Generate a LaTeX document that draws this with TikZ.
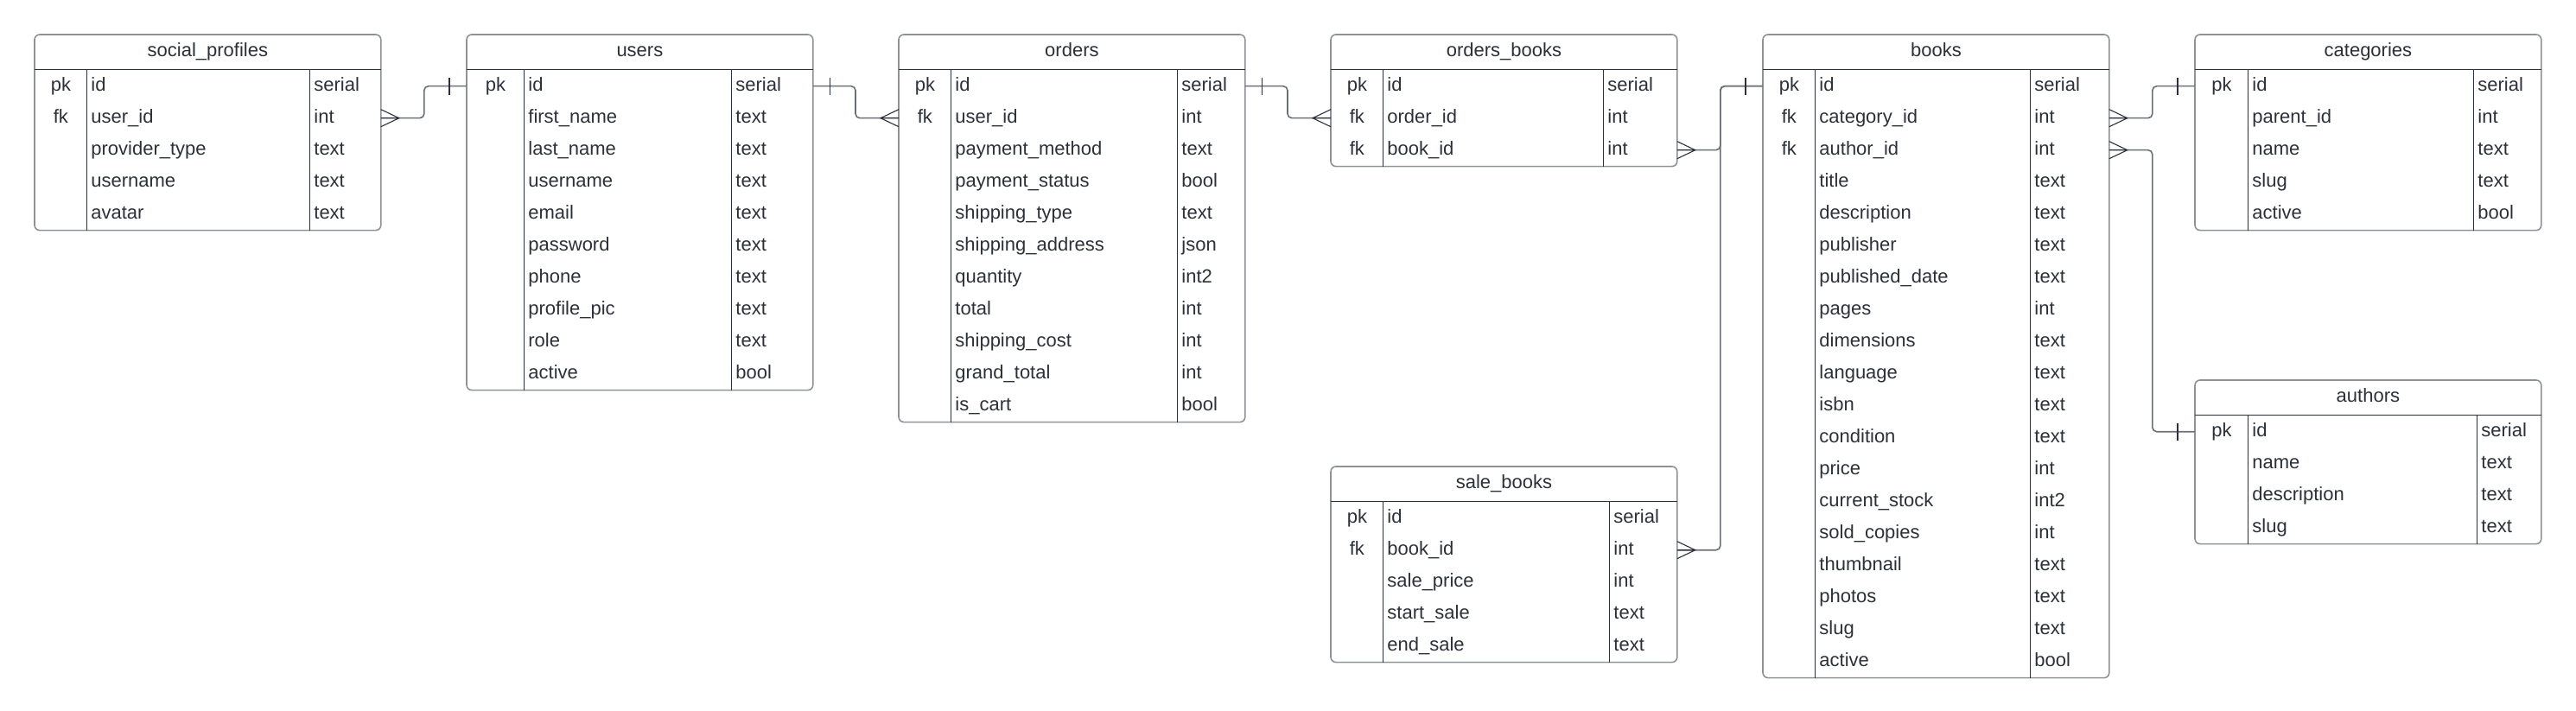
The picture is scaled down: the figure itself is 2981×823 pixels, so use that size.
\documentclass[tikz,border=0pt]{standalone}
\usepackage{fontspec}
\setmainfont{Liberation Sans}
\usetikzlibrary{matrix,decorations.markings}

\definecolor{ink}{HTML}{2C3038}
\definecolor{boxgray}{HTML}{8E9297}
\definecolor{linkgray}{HTML}{6A6F76}

\tikzset{
  hdr/.style={anchor=north west, minimum width=200pt, minimum height=20pt, inner sep=0pt, text height=8pt, text depth=2.5pt},
  tbl/.style n args={3}{matrix of nodes, nodes in empty cells, anchor=north west, inner sep=0pt, row sep=0pt, column sep=0pt,
    nodes={inner xsep=2.5pt, inner ysep=0pt, minimum height=18.5pt, text height=8pt, text depth=2.5pt, align=left},
    column 1/.style={nodes={text width=#1, align=center}},
    column 2/.style={nodes={text width=#2}},
    column 3/.style={nodes={text width=#3}}},
  tblbox/.style={draw=boxgray, line width=0.8pt, rounded corners=3pt},
  divline/.style={draw=ink, line width=0.5pt},
  mk/.style={draw=ink, line width=0.55pt, sharp corners},
  rel/.style={draw=linkgray, line width=0.8pt, rounded corners=2.5pt,
    postaction={decorate, decoration={markings,
      mark=at position 0pt with {\draw[mk] (0pt,5pt) -- (10.5pt,0pt) -- (0pt,-5pt) (0pt,0pt) -- (10.5pt,0pt);},
      mark=at position -10pt with {\draw[mk] (0pt,-5pt) -- (0pt,5pt);}}}}
}

\begin{document}
\begin{tikzpicture}[x=0.5pt, y=-0.5pt, font=\fontsize{11}{13}\selectfont, text=ink]
\useasboundingbox (0,0) rectangle (2981,823);

% tables
\node[hdr] (social-h) at (40,40) {social\_profiles};
\matrix (social) [tbl={25pt}{124pt}{36pt}] at (social-h.south west)
{
pk & id & serial \\
fk & user\_id & int \\
 & provider\_type & text \\
 & username & text \\
 & avatar & text \\
};

\node[hdr] (users-h) at (540,40) {users};
\matrix (users) [tbl={28pt}{115pt}{42pt}] at (users-h.south west)
{
pk & id & serial \\
 & first\_name & text \\
 & last\_name & text \\
 & username & text \\
 & email & text \\
 & password & text \\
 & phone & text \\
 & profile\_pic & text \\
 & role & text \\
 & active & bool \\
};

\node[hdr] (orders-h) at (1040,40) {orders};
\matrix (orders) [tbl={25pt}{126pt}{34pt}] at (orders-h.south west)
{
pk & id & serial \\
fk & user\_id & int \\
 & payment\_method & text \\
 & payment\_status & bool \\
 & shipping\_type & text \\
 & shipping\_address & json \\
 & quantity & int2 \\
 & total & int \\
 & shipping\_cost & int \\
 & grand\_total & int \\
 & is\_cart & bool \\
};

\node[hdr] (ordbooks-h) at (1540,40) {orders\_books};
\matrix (ordbooks) [tbl={25pt}{122.5pt}{37.5pt}] at (ordbooks-h.south west)
{
pk & id & serial \\
fk & order\_id & int \\
fk & book\_id & int \\
};

\node[hdr] (salebooks-h) at (1540,540) {sale\_books};
\matrix (salebooks) [tbl={25pt}{126pt}{34pt}] at (salebooks-h.south west)
{
pk & id & serial \\
fk & book\_id & int \\
 & sale\_price & int \\
 & start\_sale & text \\
 & end\_sale & text \\
};

\node[hdr] (books-h) at (2040,40) {books};
\matrix (books) [tbl={25pt}{119.5pt}{40.5pt}] at (books-h.south west)
{
pk & id & serial \\
fk & category\_id & int \\
fk & author\_id & int \\
 & title & text \\
 & description & text \\
 & publisher & text \\
 & published\_date & text \\
 & pages & int \\
 & dimensions & text \\
 & language & text \\
 & isbn & text \\
 & condition & text \\
 & price & int \\
 & current\_stock & int2 \\
 & sold\_copies & int \\
 & thumbnail & text \\
 & photos & text \\
 & slug & text \\
 & active & bool \\
};

\node[hdr] (cats-h) at (2540,40) {categories};
\matrix (cats) [tbl={25.5pt}{125.5pt}{34pt}] at (cats-h.south west)
{
pk & id & serial \\
 & parent\_id & int \\
 & name & text \\
 & slug & text \\
 & active & bool \\
};

\node[hdr] (authors-h) at (2540,440) {authors};
\matrix (authors) [tbl={25.5pt}{127.5pt}{32pt}] at (authors-h.south west)
{
pk & id & serial \\
 & name & text \\
 & description & text \\
 & slug & text \\
};

\foreach \t in {social,users,orders,ordbooks,salebooks,books,cats,authors}{
  \draw[tblbox] (\t-h.north west) rectangle (\t.south east);
  \draw[divline] (\t-h.south west) -- (\t-h.south east);
  \draw[divline] (\t-1-1.north east) -- (\t-1-1.east |- \t.south);
  \draw[divline] (\t-1-2.north east) -- (\t-1-2.east |- \t.south);
}

% relations, many end first
\path[rel] (social-2-3.east) -- ++(50,0) |- (users-1-1.west);
\path[rel] (orders-2-1.west) -- ++(-50,0) |- (users-1-3.east);
\path[rel] (ordbooks-2-1.west) -- ++(-50,0) |- (orders-1-3.east);
\path[rel] (ordbooks-3-3.east) -- ++(50,0) |- (books-1-1.west);
\path[rel] (salebooks-2-3.east) -- ++(50,0) |- (books-1-1.west);
\path[rel] (books-2-3.east) -- ++(50,0) |- (cats-1-1.west);
\path[rel] (books-3-3.east) -- ++(50,0) |- (authors-1-1.west);
\end{tikzpicture}
\end{document}
